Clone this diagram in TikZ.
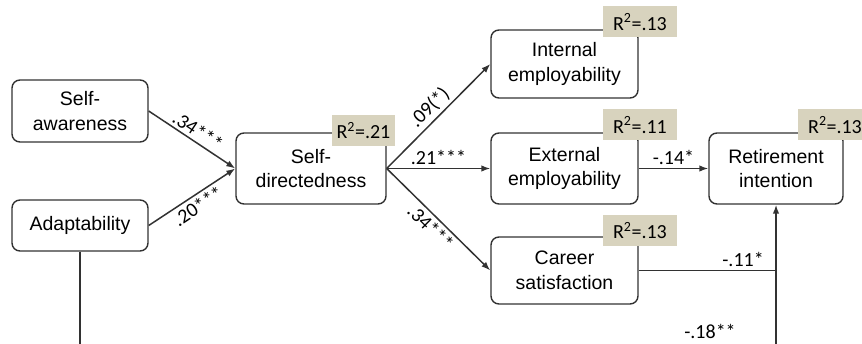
\documentclass[tikz,border=0pt]{standalone}
\usepackage{fontspec}
\setmainfont{Liberation Sans}
\newfontfamily\calfont{Carlito}
\usepackage{tikz}
\usetikzlibrary{arrows.meta}
\definecolor{rbeige}{RGB}{216,211,190}
\definecolor{lgray}{RGB}{50,50,50}

\tikzset{
  var/.style={draw=lgray, line width=1.4pt, rounded corners=8pt, align=center,
    inner sep=0pt, font=\fontsize{19.5}{24.5}\selectfont},
  rsq/.style={fill=rbeige, inner sep=0pt, minimum height=31pt,
    font=\calfont\fontsize{20}{24}\selectfont},
  path/.style={draw=lgray, line width=1.5pt},
  arr/.style={path, -{Latex[length=9pt,width=6.5pt]}},
  coef/.style={font=\calfont\fontsize{20}{24}\selectfont, inner sep=3pt}
}

\begin{document}
\begin{tikzpicture}[x=1pt,y=-1pt]
    \useasboundingbox (0,0) rectangle (862,344);
    % variables
    \node[var, minimum width=136pt, minimum height=62pt] (aware) at (80,111) {Self-\\awareness};
    \node[var, minimum width=136pt, minimum height=51pt] (adapt) at (80,225.5) {Adaptability};
    \node[var, minimum width=150pt, minimum height=71pt] (sdir) at (311,168.5) {Self-\\directedness};
    \node[var, minimum width=147pt, minimum height=68pt] (intemp) at (564.5,64) {Internal\\employability};
    \node[var, minimum width=147pt, minimum height=71pt] (extemp) at (564.5,168.5) {External\\employability};
    \node[var, minimum width=147pt, minimum height=67pt] (carsat) at (564.5,270.5) {Career\\satisfaction};
    \node[var, minimum width=134pt, minimum height=71pt] (retint) at (776,168.5) {Retirement\\intention};
    % explained variance
    \node[rsq, minimum width=63pt] (r1) at (363.5,130.5) {R\textsuperscript{2}=.21};
    \node[rsq, minimum width=74pt] (r2) at (640,22) {R\textsuperscript{2}=.13};
    \node[rsq, minimum width=74pt] (r3) at (640,125) {R\textsuperscript{2}=.11};
    \node[rsq, minimum width=74pt] (r4) at (640,230.5) {R\textsuperscript{2}=.13};
    \node[rsq, minimum width=74pt] (r5) at (835,125) {R\textsuperscript{2}=.13};
    % paths
    \draw[arr] (aware.east) -- (sdir.west) node[coef, midway, above, sloped] {.34***};
    \draw[arr] (adapt.east) -- (sdir.west) node[coef, midway, below, sloped] {.20***};
    \draw[arr] (sdir.east) -- (intemp.west) node[coef, midway, above, sloped] {.09(*)};
    \draw[arr] (sdir.east) -- (extemp.west) node[coef, midway, above] {.21***};
    \draw[arr] (sdir.east) -- (carsat.west) node[coef, midway, below, sloped] {.34***};
    \draw[arr] (extemp.east) -- (retint.west) node[coef, midway, above] {-.14*};
    \coordinate (join) at (carsat.east -| retint.south);
    \draw[path] (carsat.east) -- (join) node[coef, pos=0.76, above] {-.11*};
    \coordinate (retbot) at (retint.south |- 0,344);
    \draw[arr] (retbot) -- (retint.south);
    \node[coef] (c18) at (710,331) {-.18**};
    \coordinate (adabot) at (adapt.south |- 0,344);
    \draw[path] (adapt.south) -- (adabot);
\end{tikzpicture}
\end{document}
